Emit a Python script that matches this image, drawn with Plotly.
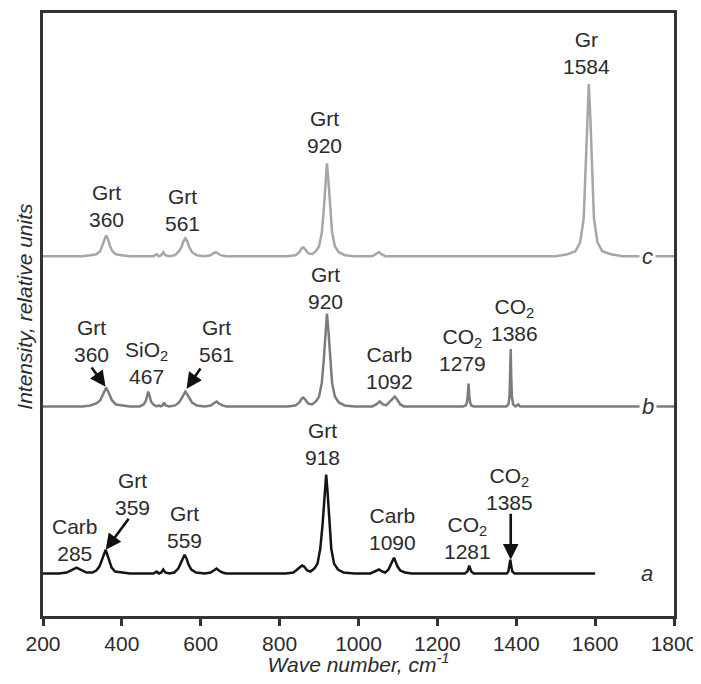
import plotly.graph_objects as go

# ---- data: traced spectra (wave number, intensity above own baseline) ----
c_x = [200, 300, 320, 335, 345, 350, 355, 360, 365, 370, 376, 385, 400, 420, 480, 488, 494, 500, 505, 510, 520,
       535, 545, 551, 556, 561, 566, 571, 578, 590, 610, 625, 633, 638, 643, 650, 665, 820, 840, 850, 856, 860,
       865, 872, 882, 892, 900, 907, 912, 916, 920, 924, 928, 933, 940, 950, 965, 990, 1035, 1045, 1052, 1058,
       1068, 1500, 1530, 1550, 1562, 1571, 1576, 1580, 1584, 1588, 1592, 1597, 1606, 1618, 1640, 1670, 1800]
c_y = [0, 0, 1, 2, 5, 10, 17, 21, 17, 10, 5, 2, 1, 0, 0, 2, 0, 1, 4, 1, 0,
       1, 5, 9, 15, 18, 15, 9, 4, 1, 0, 1, 3, 4, 3, 1, 0, 0, 1, 4, 8, 9,
       7, 3, 2, 5, 10, 24, 47, 75, 94, 75, 47, 24, 10, 4, 1, 0, 0, 2, 4, 2,
       0, 0, 2, 5, 14, 38, 87, 139, 174, 139, 87, 38, 14, 5, 2, 0, 0]

b_x = [200, 300, 320, 335, 345, 351, 356, 360, 364, 369, 375, 385, 400, 420, 445, 455, 460, 464, 467, 470, 474,
       480, 488, 494, 498, 503, 507, 511, 520, 535, 545, 551, 556, 561, 566, 571, 578, 590, 610, 625, 633, 640,
       646, 655, 665, 820, 840, 850, 856, 860, 865, 872, 882, 892, 900, 907, 912, 916, 920, 924, 928, 933, 940,
       950, 965, 990, 1035, 1045, 1054, 1062, 1070, 1078, 1086, 1092, 1098, 1106, 1115, 1265, 1272, 1275, 1277,
       1279, 1281, 1283, 1286, 1292, 1375, 1380, 1383, 1385, 1386, 1387, 1389, 1392, 1398, 1405, 1410, 1800]
b_y = [0, 0, 1, 3, 6, 11, 16, 19, 16, 11, 6, 2, 1, 0, 0, 2, 5, 11, 15, 11, 5,
       2, 0, 1, 0, 1, 4, 1, 0, 1, 4, 8, 12, 15, 12, 8, 4, 1, 0, 1, 3, 5,
       3, 1, 0, 0, 1, 4, 8, 9, 7, 3, 2, 5, 10, 24, 47, 75, 94, 75, 47, 24, 10,
       4, 1, 0, 0, 2, 5, 2, 1, 4, 8, 10, 7, 2, 0, 0, 1, 4, 11,
       23, 11, 4, 1, 0, 0, 2, 10, 34, 58, 34, 10, 2, 0, 2, 0, 0]

a_x = [200, 240, 260, 272, 280, 285, 290, 298, 310, 325, 335, 343, 349, 354, 359, 363, 368, 374, 383, 400, 420,
       480, 488, 494, 500, 505, 510, 520, 533, 543, 549, 554, 559, 564, 569, 576, 588, 610, 625, 633, 640, 646,
       655, 665, 815, 835, 845, 852, 857, 862, 870, 878, 888, 896, 903, 909, 914, 918, 922, 926, 931, 938, 948,
       962, 990, 1030, 1042, 1052, 1060, 1068, 1076, 1082, 1086, 1090, 1094, 1099, 1106, 1118, 1135, 1270, 1276,
       1279, 1281, 1283, 1286, 1292, 1376, 1380, 1383, 1385, 1387, 1390, 1396, 1600]
a_y = [0, 0, 1, 3, 5, 6, 5, 3, 1, 1, 3, 7, 14, 20, 24, 19, 12, 6, 2, 1, 0,
       0, 2, 0, 1, 4, 1, 0, 1, 5, 10, 15, 19, 15, 9, 4, 1, 0, 1, 3, 5, 3,
       1, 0, 0, 1, 4, 7, 8, 7, 3, 2, 5, 10, 25, 50, 80, 100, 80, 50, 25, 10, 4,
       1, 0, 0, 2, 4, 2, 1, 4, 9, 14, 16, 12, 7, 3, 1, 0, 0, 2,
       5, 8, 5, 2, 0, 0, 2, 8, 14, 8, 2, 0, 0]

offsets = {"a": 43, "b": 212, "c": 364}
series_names = ["c", "b", "a"]

# peak labels: (wave number position, y of label block, text)
labels_c = [(361, 414.5, "Grt<br>360"), (554, 410.5, "Grt<br>561"), (914, 490, "Grt<br>920"),
            (1579, 569.5, "Gr<br>1584")]
labels_b = [(323, 278.5, "Grt<br>360"), (463, 255.5, "SiO<sub>2</sub><br>467"), (640, 278.5, "Grt<br>561"),
            (917, 331.5, "Grt<br>920"), (1079, 251, "Carb<br>1092"), (1264, 269, "CO<sub>2</sub><br>1279"),
            (1396, 299.5, "CO<sub>2</sub><br>1386")]
labels_a = [(280, 76.5, "Carb<br>285"), (427, 123, "Grt<br>359"), (559, 90.5, "Grt<br>559"),
            (909, 173.5, "Grt<br>918"), (1087, 88.5, "Carb<br>1090"), (1276, 79, "CO<sub>2</sub><br>1281"),
            (1384, 128, "CO<sub>2</sub><br>1385")]
# arrows: (tail x, tail y, head x, head y)
arrows = [(320.5, 253, 358.6, 232), (602, 252, 564, 230), (420, 100, 359, 67), (1386, 105, 1386, 57)]

x_ticks = [200, 400, 600, 800, 1000, 1200, 1400, 1600, 1800]

FONT = "Arial, 'Liberation Sans', sans-serif"
TXT = "#2b2b2b"
colors = {"c": "#a6a6a6", "b": "#7c7c7c", "a": "#141414"}
data = {"c": (c_x, c_y), "b": (b_x, b_y), "a": (a_x, a_y)}

fig = go.Figure()
for s in series_names:
    xs, ys = data[s]
    fig.add_trace(go.Scatter(x=xs, y=[v + offsets[s] for v in ys], mode="lines",
                             line=dict(color=colors[s], width=2.5), showlegend=False, hoverinfo="skip"))

ann = []
for lst in (labels_c, labels_b, labels_a):
    for x, y, t in lst:
        ann.append(dict(x=x, y=y, text=t, showarrow=False, xanchor="center", yanchor="middle",
                        font=dict(family=FONT, size=21, color=TXT)))
for tx, ty, hx, hy in arrows:
    ann.append(dict(x=hx, y=hy, ax=tx, ay=ty, axref="x", ayref="y", text="", showarrow=True,
                    arrowhead=2, arrowsize=1.2, arrowwidth=2.6, arrowcolor="#111"))
for s, xx in (("c", 1732), ("b", 1734), ("a", 1732)):
    ann.append(dict(x=xx, y=offsets[s], text="<i>%s</i>" % s, showarrow=False, xanchor="center",
                    yanchor="middle", bgcolor="white", borderpad=2,
                    font=dict(family=FONT, size=22, color="#333")))
ann.append(dict(xref="paper", yref="paper", x=-0.0285, y=0.513, text="<i>Intensity, relative units</i>",
                textangle=-90, showarrow=False, xanchor="center", yanchor="middle",
                font=dict(family=FONT, size=21, color=TXT)))

fig.update_layout(
    width=693, height=668,
    margin=dict(l=35, r=27, t=2, b=56),
    paper_bgcolor="white", plot_bgcolor="white",
    annotations=ann,
    xaxis=dict(range=[200, 1800], tickvals=x_ticks, ticktext=[str(v) for v in x_ticks],
               showgrid=False, zeroline=False, showline=True, mirror=True, linewidth=3, linecolor="#333",
               ticks="outside", ticklen=7, tickwidth=3, tickcolor="#333", ticklabeloverflow="allow",
               tickfont=dict(family=FONT, size=21, color=TXT),
               title=dict(text="<i>Wave number, cm<sup>-1</sup></i>", standoff=4,
                          font=dict(family=FONT, size=21, color=TXT))),
    yaxis=dict(range=[0, 610], showgrid=False, zeroline=False, showline=True, mirror=True, linewidth=3,
               linecolor="#333", showticklabels=False, ticks=""),
)
fig.write_html("out.html")
